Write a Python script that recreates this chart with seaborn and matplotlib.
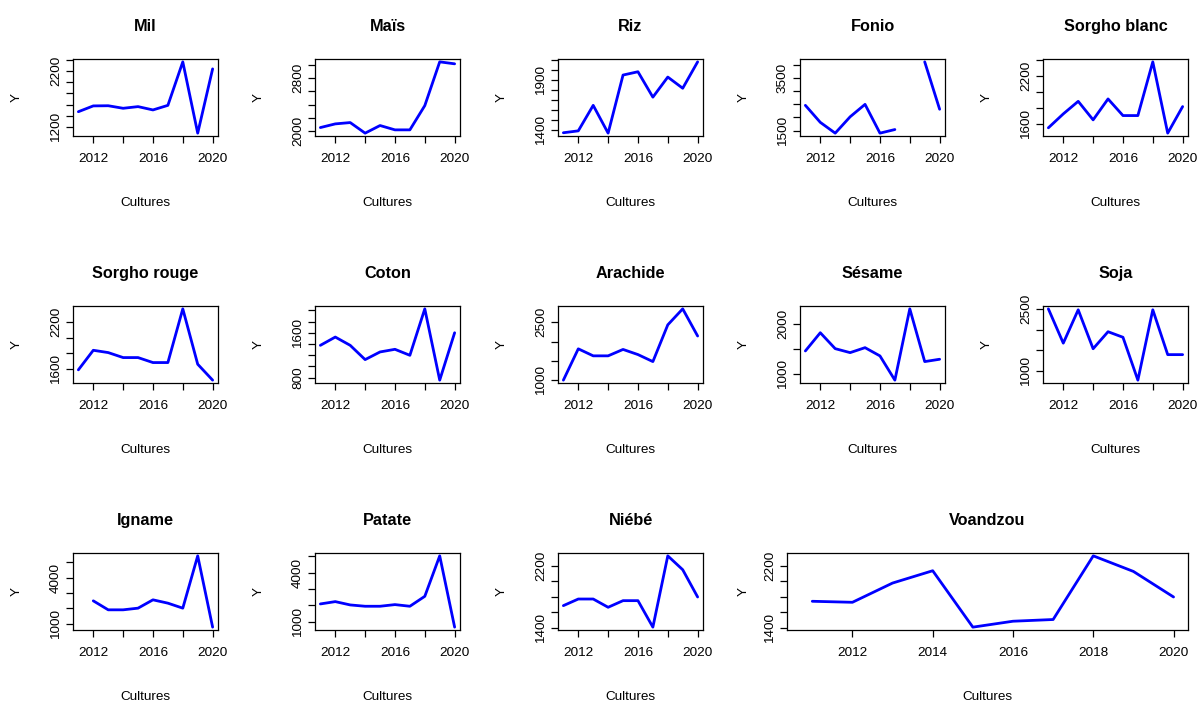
import numpy as np
import pandas as pd
import matplotlib
matplotlib.use("Agg")
import matplotlib.pyplot as plt
import seaborn as sns

# ---------------------------------------------------------------- data
years = [2011, 2012, 2013, 2014, 2015, 2016, 2017, 2018, 2019, 2020]

mil = [1470, 1575, 1578, 1532, 1562, 1502, 1585, 2372, 1082, 2245]
mais = [2050, 2106, 2126, 1965, 2081, 2015, 2015, 2384, 3050, 3020]
riz = [1374, 1393, 1648, 1370, 1951, 1984, 1730, 1931, 1819, 2083]
fonio = [2463, 1813, 1400, 2025, 2500, 1400, 1538, np.nan, 4125, 2313]
sorgho_blanc = [1550, 1725, 1883, 1650, 1913, 1704, 1704, 2379, 1483, 1817]
sorgho_rouge = [1592, 1839, 1810, 1747, 1747, 1684, 1684, 2362, 1663, 1462]
coton = [1375, 1523, 1375, 1120, 1257, 1304, 1197, 2027, 753, 1600]
arachide = [1000, 1812, 1630, 1630, 1796, 1663, 1481, 2434, 2848, 2144]
sesame = [1467, 1833, 1513, 1433, 1533, 1367, 880, 2313, 1253, 1300]
soja = [2500, 1672, 2477, 1537, 1948, 1814, 779, 2477, 1395, 1395]
igname = [np.nan, 2490, 1907, 1907, 2015, 2555, 2339, 2015, 5406, 784]
patate = [2076, 2218, 2015, 1934, 1934, 2035, 1934, 2543, 5020, 655]
niebe = [1685, 1770, 1770, 1664, 1749, 1749, 1409, 2324, 2146, 1796]
voandzou = [1741, 1728, 1975, 2133, 1409, 1485, 1507, 2324, 2124, 1796]

titles = ["Mil", "Maïs", "Riz", "Fonio", "Sorgho blanc",
          "Sorgho rouge", "Coton", "Arachide", "Sésame", "Soja",
          "Igname", "Patate", "Niébé", "Voandzou"]
series = [mil, mais, riz, fonio, sorgho_blanc,
          sorgho_rouge, coton, arachide, sesame, soja,
          igname, patate, niebe, voandzou]

# y tick positions and the labels written next to them
yticks = [
    [1200, 1400, 1600, 1800, 2000, 2200, 2400],
    [2000, 2200, 2400, 2600, 2800, 3000],
    [1400, 1500, 1600, 1700, 1800, 1900, 2000, 2100],
    [1500, 2000, 2500, 3000, 3500, 4000],
    [1600, 1800, 2000, 2200, 2400],
    [1600, 1800, 2000, 2200],
    [800, 1000, 1200, 1400, 1600, 1800, 2000],
    [1000, 1500, 2000, 2500],
    [1000, 1500, 2000],
    [1000, 1500, 2000, 2500],
    [1000, 2000, 3000, 4000, 5000],
    [1000, 2000, 3000, 4000, 5000],
    [1400, 1600, 1800, 2000, 2200],
    [1400, 1600, 1800, 2000, 2200],
]
ylabels = [
    [1200, 2200], [2000, 2800], [1400, 1900], [1500, 3500], [1600, 2200],
    [1600, 2200], [800, 1600], [1000, 2500], [1000, 2000], [1000, 2500],
    [1000, 4000], [1000, 4000], [1400, 2200], [1400, 2200],
]
xticks = [2012, 2014, 2016, 2018, 2020]
xlabels_small = [2012, 2016, 2020]

# ---------------------------------------------------------------- style
sns.set_theme(style="ticks")
plt.rcParams["font.family"] = ["Liberation Sans", "DejaVu Sans"]
plt.rcParams["axes.edgecolor"] = "black"
plt.rcParams["axes.linewidth"] = 0.9
plt.rcParams["text.color"] = "black"
plt.rcParams["axes.labelcolor"] = "black"
plt.rcParams["xtick.color"] = "black"
plt.rcParams["ytick.color"] = "black"

W, H = 1198, 702
fig = plt.figure(figsize=(W / 100, H / 100), dpi=100)
fig.patch.set_facecolor("white")

col_left = [73, 315, 558, 800, 1043]
row_top = [59, 306, 553]
pw, ph = 145, 77


def rect(left, top, width, height):
    return [left / W, 1 - (top + height) / H, width / W, height / H]


axes_rects = []
for i in range(13):
    r, c = divmod(i, 5)
    axes_rects.append(rect(col_left[c], row_top[r], pw, ph))
axes_rects.append(rect(787, row_top[2], 1188 - 787, ph))

for i, (name, vals) in enumerate(zip(titles, series)):
    ax = fig.add_axes(axes_rects[i])
    wide = name == "Voandzou"
    y = np.array(vals, dtype=float)
    # break the line wherever a year is missing
    seg = np.cumsum(np.isnan(y))
    df = pd.DataFrame({"year": years, "value": y, "seg": seg})
    sns.lineplot(data=df, x="year", y="value", units="seg", estimator=None,
                 color="#0000FF", linewidth=2.0, ax=ax, legend=False)

    lo, hi = np.nanmin(y), np.nanmax(y)
    pad = 0.04 * (hi - lo)
    ax.set_ylim(lo - pad, hi + pad)
    x0, x1 = min(years), max(years)
    xpad = 0.04 * (x1 - x0)
    if wide:
        ax.set_xlim(x0 - 0.07 * (x1 - x0), x1 + xpad)
    else:
        ax.set_xlim(x0 - xpad, x1 + xpad)

    ax.set_xticks(xticks)
    if wide:
        ax.set_xticklabels([str(t) for t in xticks])
    else:
        ax.set_xticklabels([str(t) if t in xlabels_small else "" for t in xticks])
    ax.set_yticks(yticks[i])
    ax.set_yticklabels([str(t) if t in ylabels[i] else "" for t in yticks[i]])

    ax.tick_params(axis="both", direction="out", length=5, width=0.9,
                   color="black", labelsize=9.7, labelcolor="black")
    ax.tick_params(axis="x", pad=7.5)
    ax.tick_params(axis="y", pad=3, labelrotation=90)
    for lab in ax.get_yticklabels():
        lab.set_va("center")

    ax.set_xlabel("")
    ax.set_ylabel("")
    ax.set_title(name, fontsize=11.7, fontweight="bold", pad=20, color="black")
    ax.annotate("Cultures", xy=(0.5, 0), xycoords="axes fraction",
                xytext=(0, -61), textcoords="offset pixels",
                ha="center", va="top", fontsize=9.7, color="black")
    ax.annotate("Y", xy=(0, 0.5), xycoords="axes fraction",
                xytext=(-43 if wide else -56, 0), textcoords="offset pixels",
                ha="center", va="center", rotation=90,
                fontsize=9.7, color="black")
    for sp in ax.spines.values():
        sp.set_visible(True)
        sp.set_color("black")

fig.savefig("out.png", dpi=100, facecolor="white")
